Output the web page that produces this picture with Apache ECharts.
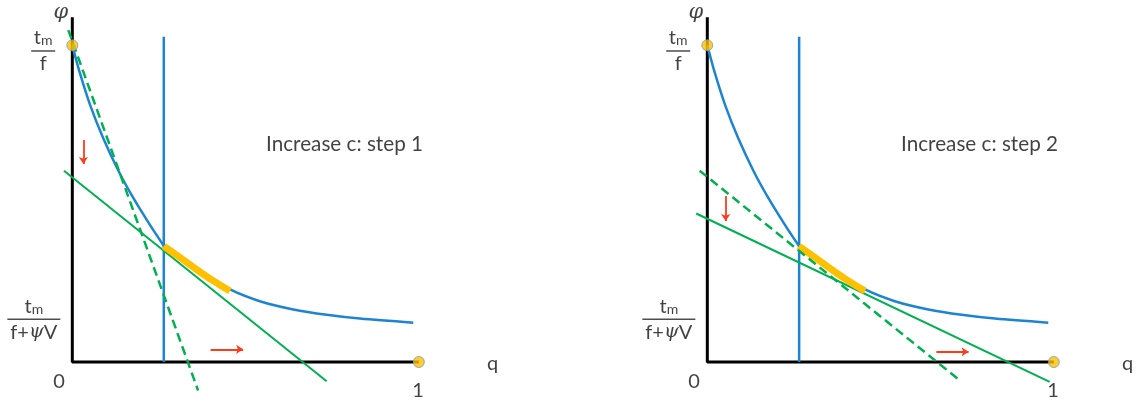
<!DOCTYPE html>
<html>
<head>
<meta charset="utf-8">
<script src="https://cdn.jsdelivr.net/npm/echarts@6/dist/echarts.min.js"></script>
<style>
  html, body { margin: 0; padding: 0; background: #fff; }
  #chart { width: 1139px; height: 404px; }
</style>
</head>
<body>
<div id="chart"></div>
<script>
// blue curve phi(q), same in both steps; it bends sharply where it meets the vertical line
const upperQ   = [0, 0.022, 0.051, 0.089, 0.133, 0.176, 0.224, 0.264];
const upperPhi = [1.0, 0.912, 0.813, 0.707, 0.604, 0.518, 0.433, 0.367];
const lowerQ   = [0.264, 0.349, 0.455, 0.541, 0.638, 0.734, 0.830, 0.984];
const lowerPhi = [0.367, 0.295, 0.229, 0.192, 0.166, 0.149, 0.137, 0.124];

// highlighted (yellow) part of the curve
const shadeQ   = [0.264, 0.311, 0.359, 0.407, 0.455];
const shadePhi = [0.366, 0.330, 0.292, 0.256, 0.224];

// vertical blue line q = capQ
const capQ = [0.264, 0.265];
const capTop = 1.027;

// green lines [q, phi] end points, step 1 and step 2
const dashedLines = [
  [[-0.0115, 1.048], [0.363, -0.090]],
  [[-0.022, 0.604], [0.723, -0.053]]
];
const solidLines = [
  [[-0.024, 0.604], [0.734, -0.061]],
  [[-0.032, 0.469], [0.988, -0.063]]
];

// red arrows
const downArrows = [
  [[0.032, 0.701], [0.032, 0.625]],
  [[0.053, 0.524], [0.053, 0.445]]
];
const rightArrows = [
  [[0.399, 0.040], [0.493, 0.040]],
  [[0.661, 0.032], [0.754, 0.032]]
];

const axisTop = 1.089;
const endPoints = [[0, 1], [1, 0]];
const titles = ['Increase c: step 1', 'Increase c: step 2'];

const zip = (a, b) => a.map((v, i) => [v, b[i]]);

const FONT = 'Lato, "Open Sans", sans-serif';
const BLUE = '#1C84D2';
const GREEN = '#00B050';
const YELLOW = '#FFC000';
const RED = '#FF3B1A';

function note(idx, pos, formatter, extra) {
  return {
    type: 'scatter', xAxisIndex: idx, yAxisIndex: idx, silent: true,
    symbolSize: 0, z: 10,
    data: [{ value: pos }],
    label: Object.assign({
      show: true, position: 'inside', formatter: formatter,
      color: '#111', fontFamily: FONT, fontSize: 20,
      align: 'center', verticalAlign: 'middle'
    }, extra || {})
  };
}

function line(idx, data, style, extra) {
  return Object.assign({
    type: 'line', xAxisIndex: idx, yAxisIndex: idx, silent: true,
    symbol: 'none', data: data, lineStyle: style
  }, extra || {});
}

const fracRich = {
  t: { fontFamily: FONT, fontSize: 20, color: '#111', lineHeight: 18, verticalAlign: 'bottom' },
  m: { fontFamily: FONT, fontSize: 14, color: '#111', lineHeight: 12, verticalAlign: 'bottom' },
  bar: { width: 24, height: 1.5, lineHeight: 6, backgroundColor: '#222' },
  barW: { width: 53, height: 1.5, lineHeight: 6, backgroundColor: '#222' },
  f: { fontFamily: FONT, fontSize: 20, color: '#111', lineHeight: 20 },
  psi: { fontFamily: '"DejaVu Serif", serif', fontStyle: 'italic', fontSize: 19, color: '#111', lineHeight: 20 }
};

const series = [];
[0, 1].forEach(i => {
  series.push(line(i, [[0, axisTop], [0, 0], [1, 0]], { color: '#000', width: 3 }));
  series.push(line(i, [[capQ[i], 0], [capQ[i], capTop]], { color: BLUE, width: 2.5 }));
  series.push(line(i, zip(upperQ, upperPhi), { color: BLUE, width: 2.5 }, { smooth: 0.3 }));
  series.push(line(i, zip(lowerQ, lowerPhi), { color: BLUE, width: 2.5 }, { smooth: 0.3 }));
  series.push(line(i, solidLines[i], { color: GREEN, width: 2 }));
  series.push(line(i, zip(shadeQ, shadePhi), { color: YELLOW, width: 7, cap: 'butt' }, { smooth: 0.3 }));
  series.push(line(i, dashedLines[i], { color: GREEN, width: 2.5, type: [9, 5] }));
  series.push({
    type: 'scatter', xAxisIndex: i, yAxisIndex: i, silent: true,
    symbolSize: 11, data: endPoints, z: 5,
    itemStyle: { color: YELLOW, borderColor: '#7D98BE', borderWidth: 1 }
  });
  series.push({
    type: 'lines', coordinateSystem: 'cartesian2d', xAxisIndex: i, yAxisIndex: i,
    silent: true, symbol: ['none', 'arrow'], symbolSize: 7,
    data: [{ coords: downArrows[i] }, { coords: rightArrows[i] }],
    lineStyle: { color: RED, width: 1.8, opacity: 1 }
  });

  // texts
  series.push(note(i, [-0.033, 1.105], 'φ', {
    fontFamily: '"DejaVu Serif", serif', fontStyle: 'italic', fontSize: 21
  }));
  series.push(note(i, [-0.084, 0.979], '{t|t}{m|m}\n{bar|}\n{f|f}', { rich: fracRich }));
  series.push(note(i, [-0.111, 0.132], '{t|t}{m|m}\n{barW|}\n{f|f+}{psi|ψ}{f|V}', { rich: fracRich }));
  series.push(note(i, [-0.038, -0.061], '0'));
  series.push(note(i, [0.998, -0.089], '1'));
  series.push(note(i, [1.213, -0.004], 'q'));
  series.push(note(i, [0.559, 0.688], titles[i], { align: 'left', fontSize: 20.7 }));
});

const chart = echarts.init(document.getElementById('chart'));
chart.setOption({
  animation: false,
  grid: [
    { left: 3, top: 1, width: 499, bottom: 4 },
    { left: 638, top: 1, width: 499, bottom: 4 }
  ],
  xAxis: [0, 1].map(i => ({ type: 'value', gridIndex: i, min: -0.2, max: 1.24, show: false })),
  yAxis: [0, 1].map(i => ({ type: 'value', gridIndex: i, min: -0.12, max: 1.14, show: false })),
  series: series
});
</script>
</body>
</html>
